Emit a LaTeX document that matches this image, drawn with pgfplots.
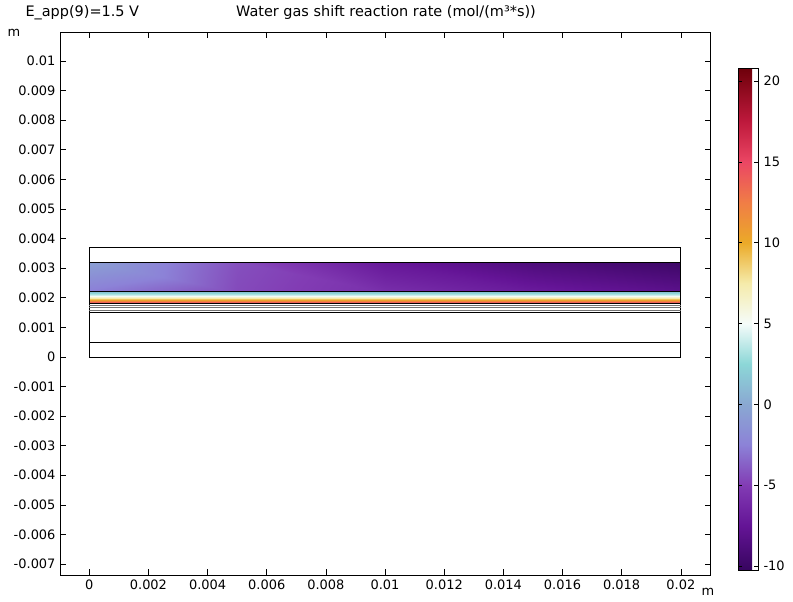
\documentclass[border=0pt]{standalone}
\usepackage{fontspec}
\setmainfont{DejaVu Sans}
\usepackage{pgfplots}
\pgfplotsset{compat=1.18}

% colour table (positions = 100*(value+10.25))
\pgfplotsset{
  colormap={wgs}{
    rgb255(0)=(55,5,95)
    rgb255(275)=(100,20,150)
    rgb255(525)=(130,60,180)
    rgb255(775)=(140,130,215)
    rgb255(1025)=(138,168,210)
    rgb255(1275)=(140,215,215)
    rgb255(1525)=(245,252,250)
    rgb255(1775)=(245,235,170)
    rgb255(2025)=(235,170,40)
    rgb255(2275)=(240,125,70)
    rgb255(2525)=(235,70,100)
    rgb255(2775)=(190,25,60)
    rgb255(3105)=(110,0,10)
  }
}

% upper layer: x y rate
\pgfplotstableread{
x y r
0 0.0022 -2.7
0.005 0.0022 -4.5
0.01 0.0022 -5.8
0.015 0.0022 -7.0
0.02 0.0022 -8.0
0 0.0032 -0.5
0.005 0.0032 -4.3
0.01 0.0032 -7.3
0.015 0.0032 -8.9
0.02 0.0032 -9.9
}\toplayer

% thin reaction band
\pgfplotstableread{
x y r
0 0.0018 17.5
0.02 0.0018 17.5
0 0.0019 12.0
0.02 0.0019 12.0
0 0.0020 7.5
0.02 0.0020 7.5
0 0.0021 4.0
0.02 0.0021 4.0
0 0.0022 1.5
0.02 0.0022 1.5
}\band

\begin{document}
\begin{tikzpicture}[font=\fontsize{13}{15}\selectfont]
\useasboundingbox (0,0) rectangle (793bp,602bp);
\begin{axis}[
  at={(60bp,27bp)}, anchor=south west,
  scale only axis, width=650.7bp, height=542.7bp,
  xmin=-0.00099, xmax=0.02101,
  ymin=-0.00737, ymax=0.01097,
  scaled ticks=false,
  axis line style={black, line width=0.7pt},
  tick align=inside,
  major tick length=6bp,
  tick style={black, line width=0.6pt},
  xtick={0,0.002,0.004,0.006,0.008,0.01,0.012,0.014,0.016,0.018,0.02},
  xticklabels={0,0.002,0.004,0.006,0.008,0.01,0.012,0.014,0.016,0.018,0.02},
  ytick={-0.007,-0.006,-0.005,-0.004,-0.003,-0.002,-0.001,0,0.001,0.002,0.003,0.004,0.005,0.006,0.007,0.008,0.009,0.01},
  yticklabels={-0.007,-0.006,-0.005,-0.004,-0.003,-0.002,-0.001,0,0.001,0.002,0.003,0.004,0.005,0.006,0.007,0.008,0.009,0.01},
  x tick label style={yshift=-1bp},
  y tick label style={xshift=-1bp},
  colormap name=wgs,
  point meta min=-10.25, point meta max=20.8,
  colorbar,
  colorbar style={
    at={(1.042,0.934)}, anchor=north west,
    scale only axis, width=20bp, height=502bp,
    scaled ticks=false,
    ytick={-10,-5,0,5,10,15,20},
    yticklabels={-10,-5,0,5,10,15,20},
    tick align=inside, major tick length=4bp,
    tick style={black, line width=0.6pt},
    axis line style={black, line width=0.7pt},
    yticklabel pos=right,
    y tick label style={xshift=2bp},
  },
]
\addplot[surf, shader=interp, mesh/rows=2, mesh/cols=5, point meta=\thisrow{r}]
  table[x=x, y=y] {\toplayer};
\addplot[surf, shader=interp, mesh/rows=5, mesh/cols=2, point meta=\thisrow{r}]
  table[x=x, y=y] {\band};
% domain outlines
\addplot[black, line width=0.8pt] coordinates {(0,0) (0.02,0) (0.02,0.0037) (0,0.0037) (0,0)};
\addplot[black, line width=0.8pt] coordinates {(0,0.0032) (0.02,0.0032)};
\addplot[black, line width=0.8pt] coordinates {(0,0.0022) (0.02,0.0022)};
\addplot[black, line width=0.8pt] coordinates {(0,0.0018) (0.02,0.0018)};
\addplot[black!55, line width=0.7pt] coordinates {(0,0.00173) (0.02,0.00173)};
\addplot[black!55, line width=0.7pt] coordinates {(0,0.00166) (0.02,0.00166)};
\addplot[black!55, line width=0.7pt] coordinates {(0,0.00159) (0.02,0.00159)};
\addplot[black, line width=0.8pt] coordinates {(0,0.00152) (0.02,0.00152)};
\addplot[black, line width=0.8pt] coordinates {(0,0.0005) (0.02,0.0005)};
\end{axis}
\node[anchor=west, font=\fontsize{14.5}{16}\selectfont] at (22bp,589bp) {E\_app(9)=1.5 V};
\node[font=\fontsize{14.5}{16}\selectfont] at (386bp,589bp) {Water gas shift reaction rate (mol/(m³*s))};
\node at (14bp,569bp) {m};
\node at (708bp,10bp) {m};
\end{tikzpicture}
\end{document}
